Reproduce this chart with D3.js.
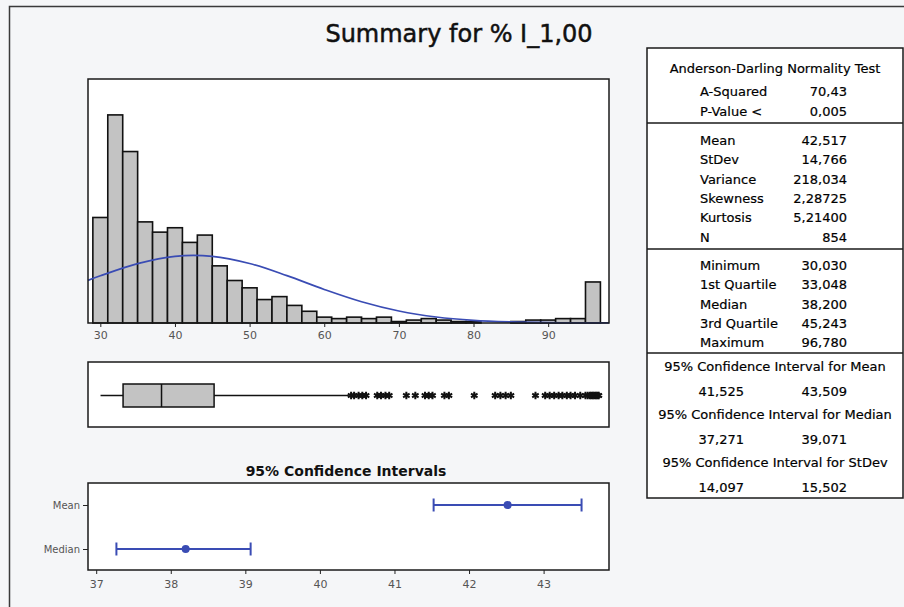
<!DOCTYPE html>
<html>
<head>
<meta charset="utf-8">
<script src="https://cdn.jsdelivr.net/npm/d3@7"></script>
<style>
  body { margin: 0; background: #f5f6f8; }
  svg text { font-family: "DejaVu Sans", sans-serif; }
</style>
</head>
<body>
<div id="chart"></div>
<script>
// histogram: bins of width 2, centred on these values
const binCenters = [30, 32, 34, 36, 38, 40, 42, 44, 46, 48, 50, 52, 54, 56, 58, 60, 62,
                    64, 66, 68, 70, 72, 74, 76, 78, 80, 82, 84, 86, 88, 90, 92, 94, 96];
const binCounts = [72, 142, 117, 69, 62, 65, 55, 60, 39, 29, 24, 16, 18, 12, 8, 4, 3,
                   4, 3, 4, 1, 2, 3, 2, 1, 1, 0, 0, 1, 2, 2, 3, 3, 28];
const binWidth = 2;
const histTicks = [30, 40, 50, 60, 70, 80, 90];

// fitted normal curve (counts per bin) read along x
const fitX = [28.35, 30, 35, 40, 45, 50, 55, 60, 65, 70, 75, 80, 85, 90, 95, 98.15];
const fitY = [29.1, 32.2, 40.5, 45.5, 45.5, 40.6, 32.3, 22.9, 14.5, 8.2, 4.1, 1.8, 0.74, 0.26, 0.08, 0.03];

// boxplot
const boxMin = 30.03, boxQ1 = 33.048, boxMed = 38.2, boxQ3 = 45.243, whiskerHi = 63.3;
const outliers = [63.6, 64.0, 64.6, 65.1, 65.6, 67.1, 67.6, 68.2, 68.7,
                  71.0, 72.2, 73.5, 74.0, 74.5, 76.1, 76.7, 80.1,
                  82.9, 83.6, 84.3, 85.0, 88.3, 89.6, 90.2, 90.8, 91.4, 91.9, 92.5, 93.0, 93.6, 94.3,
                  95.0, 95.3, 95.6, 95.8, 96.0, 96.2, 96.4, 96.6, 96.78];

// confidence intervals
const ciNames = ["Mean", "Median"];
const ciLow = [41.525, 37.271];
const ciEst = [42.517, 38.2];
const ciHigh = [43.509, 39.071];
const ciTicks = [37, 38, 39, 40, 41, 42, 43];

// summary table
const adRows = [["A-Squared", "70,43"], ["P-Value <", "0,005"]];
const momentRows = [["Mean", "42,517"], ["StDev", "14,766"], ["Variance", "218,034"],
                    ["Skewness", "2,28725"], ["Kurtosis", "5,21400"], ["N", "854"]];
const quantRows = [["Minimum", "30,030"], ["1st Quartile", "33,048"], ["Median", "38,200"],
                   ["3rd Quartile", "45,243"], ["Maximum", "96,780"]];
const ciTitles = ["95% Confidence Interval for Mean", "95% Confidence Interval for Median",
                  "95% Confidence Interval for StDev"];
const ciValues = [["41,525", "43,509"], ["37,271", "39,071"], ["14,097", "15,502"]];

const W = 904, H = 607;
const blue = "#3a4cb4";

const svg = d3.select("#chart").append("svg")
    .attr("width", W).attr("height", H);

svg.append("rect").attr("width", W).attr("height", H).attr("fill", "#f5f6f8");
svg.append("path").attr("d", "M9.5,607V6.5H904")
    .attr("fill", "none").attr("stroke", "#3a3a3a").attr("stroke-width", 1.5);

svg.append("text").attr("x", 459).attr("y", 42)
    .attr("text-anchor", "middle").attr("font-size", 24).attr("fill", "#111")
    .attr("stroke", "#111").attr("stroke-width", 0.5)
    .text("Summary for % I_1,00");

// ---- histogram
const hx = {l: 88, r: 609, t: 79, b: 323};
const x = d3.scaleLinear().domain([28.35, 98.15]).range([hx.l, hx.r]);
const y = d3.scaleLinear().domain([0, 166.5]).range([hx.b, hx.t]);

svg.append("rect").attr("x", hx.l).attr("y", hx.t)
    .attr("width", hx.r - hx.l).attr("height", hx.b - hx.t)
    .attr("fill", "#fff");

svg.append("g").selectAll("rect")
    .data(binCenters)
    .join("rect")
    .attr("x", (d) => x(d - binWidth / 2))
    .attr("y", (d, i) => y(binCounts[i]))
    .attr("width", (d) => x(d + binWidth / 2) - x(d - binWidth / 2))
    .attr("height", (d, i) => hx.b - y(binCounts[i]))
    .attr("fill", "#c3c3c3")
    .attr("stroke", "#111")
    .attr("stroke-width", 1.6);

const fitLine = d3.line()
    .x((d, i) => x(d))
    .y((d, i) => y(fitY[i]))
    .curve(d3.curveCatmullRom);

svg.append("path").datum(fitX)
    .attr("d", fitLine)
    .attr("fill", "none").attr("stroke", blue).attr("stroke-width", 1.7);

svg.append("rect").attr("x", hx.l).attr("y", hx.t)
    .attr("width", hx.r - hx.l).attr("height", hx.b - hx.t)
    .attr("fill", "none").attr("stroke", "#1a1a1a").attr("stroke-width", 1.5);

const hAxis = svg.append("g").attr("transform", "translate(0," + hx.b + ")")
    .call(d3.axisBottom(x).tickValues(histTicks).tickSize(4).tickPadding(4));
hAxis.select(".domain").remove();
hAxis.selectAll("line").attr("stroke", "#222");
hAxis.selectAll("text").attr("font-size", 11).attr("fill", "#555")
    .style("font-family", "DejaVu Sans, sans-serif");

// ---- boxplot
const bx = {t: 362, b: 427, cy: 395.5, h: 23};
svg.append("rect").attr("x", hx.l).attr("y", bx.t)
    .attr("width", hx.r - hx.l).attr("height", bx.b - bx.t)
    .attr("fill", "#fff").attr("stroke", "#1a1a1a").attr("stroke-width", 1.5);

svg.append("line").attr("x1", x(boxMin)).attr("x2", x(whiskerHi))
    .attr("y1", bx.cy).attr("y2", bx.cy)
    .attr("stroke", "#111").attr("stroke-width", 1.5);

svg.append("rect").attr("x", x(boxQ1)).attr("y", bx.cy - bx.h / 2)
    .attr("width", x(boxQ3) - x(boxQ1)).attr("height", bx.h)
    .attr("fill", "#c3c3c3").attr("stroke", "#111").attr("stroke-width", 1.5);

svg.append("line").attr("x1", x(boxMed)).attr("x2", x(boxMed))
    .attr("y1", bx.cy - bx.h / 2).attr("y2", bx.cy + bx.h / 2)
    .attr("stroke", "#111").attr("stroke-width", 1.5);

svg.append("g").selectAll("path")
    .data(outliers)
    .join("path")
    .attr("transform", (d) => "translate(" + x(d) + "," + bx.cy + ")")
    .attr("d", d3.symbol(d3.symbolAsterisk, 40))
    .attr("fill", "none").attr("stroke", "#111").attr("stroke-width", 2);

// ---- confidence intervals
const cx = {t: 483, b: 570};
const ciX = d3.scaleLinear().domain([36.89, 43.877]).range([hx.l, hx.r]);
const ciY = d3.scalePoint().domain(ciNames).range([505, 549]);

svg.append("text").attr("x", 346).attr("y", 476)
    .attr("text-anchor", "middle").attr("font-size", 14).attr("font-weight", "bold")
    .attr("fill", "#111").text("95% Confidence Intervals");

svg.append("rect").attr("x", hx.l).attr("y", cx.t)
    .attr("width", hx.r - hx.l).attr("height", cx.b - cx.t)
    .attr("fill", "#fff").attr("stroke", "#1a1a1a").attr("stroke-width", 1.5);

const ciG = svg.append("g").selectAll("g")
    .data(ciNames)
    .join("g");

ciG.append("line")
    .attr("x1", (d, i) => ciX(ciLow[i])).attr("x2", (d, i) => ciX(ciHigh[i]))
    .attr("y1", (d) => ciY(d)).attr("y2", (d) => ciY(d))
    .attr("stroke", blue).attr("stroke-width", 2);
ciG.append("line")
    .attr("x1", (d, i) => ciX(ciLow[i])).attr("x2", (d, i) => ciX(ciLow[i]))
    .attr("y1", (d) => ciY(d) - 6.5).attr("y2", (d) => ciY(d) + 6.5)
    .attr("stroke", blue).attr("stroke-width", 2);
ciG.append("line")
    .attr("x1", (d, i) => ciX(ciHigh[i])).attr("x2", (d, i) => ciX(ciHigh[i]))
    .attr("y1", (d) => ciY(d) - 6.5).attr("y2", (d) => ciY(d) + 6.5)
    .attr("stroke", blue).attr("stroke-width", 2);
ciG.append("circle")
    .attr("cx", (d, i) => ciX(ciEst[i])).attr("cy", (d) => ciY(d))
    .attr("r", 4).attr("fill", blue);

const ciAxisX = svg.append("g").attr("transform", "translate(0," + cx.b + ")")
    .call(d3.axisBottom(ciX).tickValues(ciTicks).tickFormat(d3.format("d")).tickSize(4).tickPadding(6));
const ciAxisY = svg.append("g").attr("transform", "translate(" + hx.l + ",0)")
    .call(d3.axisLeft(ciY).tickSize(5).tickPadding(3));
[ciAxisX, ciAxisY].forEach((a) => {
    a.select(".domain").remove();
    a.selectAll("line").attr("stroke", "#222");
    a.selectAll("text").attr("font-size", 10).attr("fill", "#555")
        .style("font-family", "DejaVu Sans, sans-serif");
});
ciAxisX.selectAll("text").attr("font-size", 11);

// ---- summary table
const tb = {l: 647, r: 903, t: 48, b: 498};
const tg = svg.append("g").attr("font-size", 13).attr("fill", "#000")
    .attr("stroke", "#000").attr("stroke-width", 0.2);
tg.append("rect").attr("x", tb.l).attr("y", tb.t)
    .attr("width", tb.r - tb.l).attr("height", tb.b - tb.t)
    .attr("fill", "#fff").attr("stroke", "#1a1a1a").attr("stroke-width", 1.5);
[123, 249, 353].forEach((yy) => {
    tg.append("line").attr("x1", tb.l).attr("x2", tb.r).attr("y1", yy).attr("y2", yy)
        .attr("stroke", "#1a1a1a").attr("stroke-width", 1.5);
});

const midX = (tb.l + tb.r) / 2;
const labX = 700, valX = 847;

tg.append("text").attr("x", midX).attr("y", 73).attr("text-anchor", "middle")
    .text("Anderson-Darling Normality Test");

function rows(data, y0, step) {
    data.forEach((r, i) => {
        tg.append("text").attr("x", labX).attr("y", y0 + i * step).text(r[0]);
        tg.append("text").attr("x", valX).attr("y", y0 + i * step)
            .attr("text-anchor", "end").text(r[1]);
    });
}
rows(adRows, 96, 20);
rows(momentRows, 145, 19.3);
rows(quantRows, 270, 19.3);

ciTitles.forEach((t, i) => {
    const yy = 371 + i * 48;
    tg.append("text").attr("x", midX).attr("y", yy).attr("text-anchor", "middle").text(t);
    tg.append("text").attr("x", 744).attr("y", yy + 25).attr("text-anchor", "end").text(ciValues[i][0]);
    tg.append("text").attr("x", valX).attr("y", yy + 25).attr("text-anchor", "end").text(ciValues[i][1]);
});
</script>
</body>
</html>
